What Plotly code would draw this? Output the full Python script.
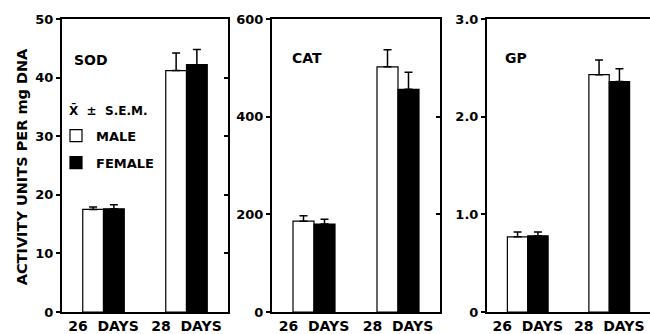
import plotly.graph_objects as go

days = ["26\u00a0\u00a0DAYS", "28\u00a0\u00a0DAYS"]
sod_male = [17.5, 41.2]
sod_male_err = [0.4, 3.0]
sod_female = [17.6, 42.2]
sod_female_err = [0.7, 2.6]
cat_male = [186, 502]
cat_male_err = [11, 35]
cat_female = [180, 456]
cat_female_err = [10, 35]
gp_male = [0.77, 2.43]
gp_male_err = [0.05, 0.15]
gp_female = [0.78, 2.36]
gp_female_err = [0.04, 0.13]
panel_names = ["SOD", "CAT", "GP"]
y_ranges = [[0, 50], [0, 600], [0, 3.0]]
y_tickvals = [[0, 10, 20, 30, 40, 50], [0, 200, 400, 600], [0, 1.0, 2.0, 3.0]]
y_ticktext = [["0", "10", "20", "30", "40", "50"], ["0", "200", "400", "600"], ["0", "1.0", "2.0", "3.0"]]
right_ticks = [[10, 20, 30, 40], [200, 400], []]

FONT = "DejaVu Sans"
W, H = 650, 334
domains = [[62 / W, 228 / W], [272 / W, 440 / W], [487 / W, 1.0]]

fig = go.Figure()
males = [(sod_male, sod_male_err), (cat_male, cat_male_err), (gp_male, gp_male_err)]
females = [(sod_female, sod_female_err), (cat_female, cat_female_err), (gp_female, gp_female_err)]

for i in range(3):
    xa = "x" if i == 0 else f"x{i+1}"
    ya = "y" if i == 0 else f"y{i+1}"
    for j, (vals, err, fill, name) in enumerate([
        (males[i][0], males[i][1], "white", "MALE"),
        (females[i][0], females[i][1], "black", "FEMALE"),
    ]):
        fig.add_trace(go.Bar(
            x=days, y=vals, name=name, xaxis=xa, yaxis=ya,
            marker=dict(color=fill, line=dict(color="black", width=1.2)),
            error_y=dict(type="data", array=err, arrayminus=[0, 0], symmetric=False,
                         color="black", thickness=1.5, width=4),
            showlegend=(i == 0), legendgroup=name,
        ))

layout = dict(
    width=W, height=H,
    margin=dict(l=0, r=0, t=19, b=20),
    paper_bgcolor="white", plot_bgcolor="white",
    barmode="group", bargap=0.5, bargroupgap=0.0,
    font=dict(family=FONT, size=13, color="black", weight="bold"),
    legend=dict(x=56 / W, y=1 - 116 / H, xanchor="left", yanchor="top",
                bgcolor="rgba(0,0,0,0)", traceorder="grouped", tracegroupgap=7,
                font=dict(size=13, family=FONT, weight="bold"), itemwidth=30),
)

for i in range(3):
    xk = "xaxis" if i == 0 else f"xaxis{i+1}"
    yk = "yaxis" if i == 0 else f"yaxis{i+1}"
    ya = "y" if i == 0 else f"y{i+1}"
    xa = "x" if i == 0 else f"x{i+1}"
    layout[xk] = dict(domain=domains[i], anchor=ya, showline=True, linecolor="black", linewidth=2,
                      mirror=True, ticks="", showgrid=False,
                      tickfont=dict(size=14, family=FONT, weight="bold"))
    layout[yk] = dict(domain=[0, 1], anchor=xa, range=y_ranges[i], showline=True, linecolor="black",
                      linewidth=2, ticks="outside", ticklen=4, tickwidth=1.5, tickcolor="black",
                      tickvals=y_tickvals[i], ticktext=y_ticktext[i], showgrid=False, zeroline=False,
                      tickfont=dict(size=13, family=FONT, weight="bold"))
    if i < 2:
        k = f"yaxis{i+4}"
        layout[k] = dict(overlaying=ya, anchor=xa, side="right", range=y_ranges[i], showline=True,
                         linecolor="black", linewidth=1.5, ticks="inside", ticklen=4, tickwidth=1.5,
                         tickcolor="black", tickvals=right_ticks[i], showticklabels=False,
                         showgrid=False, zeroline=False)

fig.update_layout(**layout)

# invisible traces to activate the right-side overlay axes
for i in range(2):
    xa = "x" if i == 0 else f"x{i+1}"
    fig.add_trace(go.Scatter(x=[days[0]], y=[0], xaxis=xa, yaxis=f"y{i+4}", mode="markers",
                             marker=dict(opacity=0), showlegend=False, hoverinfo="skip"))

label_pos = [(72, 47), (290, 45), (503, 45)]
for name, (px, py) in zip(panel_names, label_pos):
    fig.add_annotation(text=name, x=px / W, y=1 - py / H, xref="paper", yref="paper",
                       xanchor="left", yanchor="middle", showarrow=False,
                       font=dict(size=14, family=FONT, weight="bold"))

fig.add_annotation(text="X\u0304  \u00b1  S.E.M.", x=67 / W, y=1 - 104 / H, xref="paper", yref="paper",
                   xanchor="left", yanchor="middle", showarrow=False,
                   font=dict(size=12, family=FONT, weight="bold"))

fig.add_annotation(text="ACTIVITY UNITS PER mg DNA", x=22 / W, y=1 - 169 / H, xref="paper", yref="paper",
                   textangle=-90, showarrow=False, xanchor="center", yanchor="middle",
                   font=dict(size=14.5, family=FONT, weight="bold"))

fig.write_html("out.html", config={"displayModeBar": False},
               post_script="document.body.style.margin='0px';")
